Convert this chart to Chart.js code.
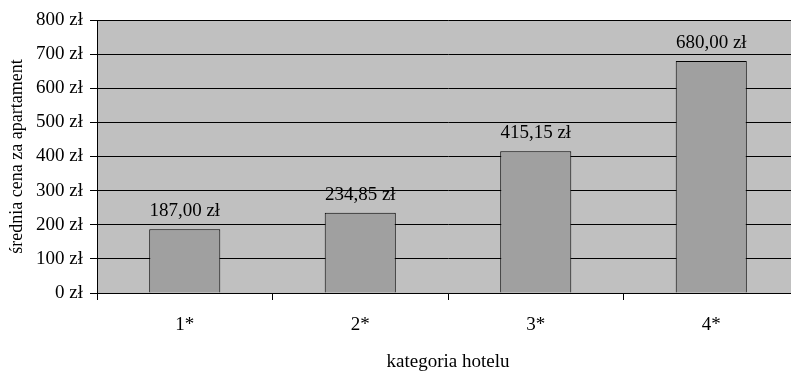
<!DOCTYPE html>
<html>
<head>
<meta charset="utf-8">
<script src="https://cdn.jsdelivr.net/npm/chart.js@4/dist/chart.umd.min.js"></script>
<style>
  html, body { margin: 0; padding: 0; background: #fff; overflow: hidden; }
  canvas { display: block; }
</style>
</head>
<body>
<canvas id="chart" width="800" height="373"></canvas>
<script>
// Hotel category vs. average apartment price
const categories = ['1*', '2*', '3*', '4*'];
const avgPrice = [187.00, 234.85, 415.15, 680.00];
const yTicks = [0, 100, 200, 300, 400, 500, 600, 700, 800];

const FONT = '"Liberation Serif", "Times New Roman", serif';
const fmtPLN = v => v.toFixed(2).replace('.', ',') + ' zł';

// Grey plot area behind the bars
const plotBackground = {
  id: 'plotBackground',
  beforeDraw(chart) {
    const { ctx, chartArea: a } = chart;
    ctx.save();
    ctx.fillStyle = '#C0C0C0';
    ctx.fillRect(a.left, a.top, a.right - a.left, a.bottom - a.top);
    ctx.restore();
  }
};

// Price labels above each bar
const valueLabels = {
  id: 'valueLabels',
  afterDatasetsDraw(chart) {
    const { ctx } = chart;
    const meta = chart.getDatasetMeta(0);
    ctx.save();
    ctx.font = '19px ' + FONT;
    ctx.fillStyle = '#000';
    ctx.textAlign = 'center';
    ctx.textBaseline = 'alphabetic';
    meta.data.forEach((bar, i) => {
      ctx.fillText(fmtPLN(avgPrice[i]), bar.x, bar.y - 13);
    });
    ctx.restore();
  }
};

new Chart(document.getElementById('chart'), {
  type: 'bar',
  data: {
    labels: categories,
    datasets: [{
      data: avgPrice,
      backgroundColor: '#A0A0A0',
      borderColor: '#000',
      borderWidth: 1,
      borderSkipped: 'bottom',
      barPercentage: 0.405,
      categoryPercentage: 1
    }]
  },
  options: {
    responsive: false,
    animation: false,
    devicePixelRatio: 1,
    layout: { padding: { top: 20, right: 1, bottom: 0, left: 0 } },
    plugins: { legend: { display: false }, tooltip: { enabled: false } },
    scales: {
      x: {
        offset: true,
        grid: {
          offset: true,
          drawOnChartArea: false,
          drawTicks: true,
          tickLength: 7,
          color: '#000'
        },
        border: { color: '#000', width: 1 },
        ticks: { color: '#000', font: { family: FONT, size: 19 }, padding: 14 },
        title: {
          display: true,
          text: 'kategoria hotelu',
          color: '#000',
          font: { family: FONT, size: 19 },
          padding: { top: 0, bottom: 0 }
        },
        afterFit(scale) { scale.height = 80; }
      },
      y: {
        min: 0,
        max: 800,
        afterBuildTicks(scale) { scale.ticks = yTicks.map(v => ({ value: v })); },
        grid: { color: '#000', tickLength: 7, drawTicks: true },
        border: { color: '#000', width: 1 },
        ticks: {
          color: '#000',
          font: { family: FONT, size: 19 },
          padding: 7,
          callback: v => v + ' zł'
        },
        title: {
          display: true,
          text: 'średnia cena za apartament',
          color: '#000',
          font: { family: FONT, size: 18 },
          padding: { top: 6, bottom: 0 }
        },
        afterFit(scale) { scale.width = 97; }
      }
    }
  },
  plugins: [plotBackground, valueLabels]
});
</script>
</body>
</html>
